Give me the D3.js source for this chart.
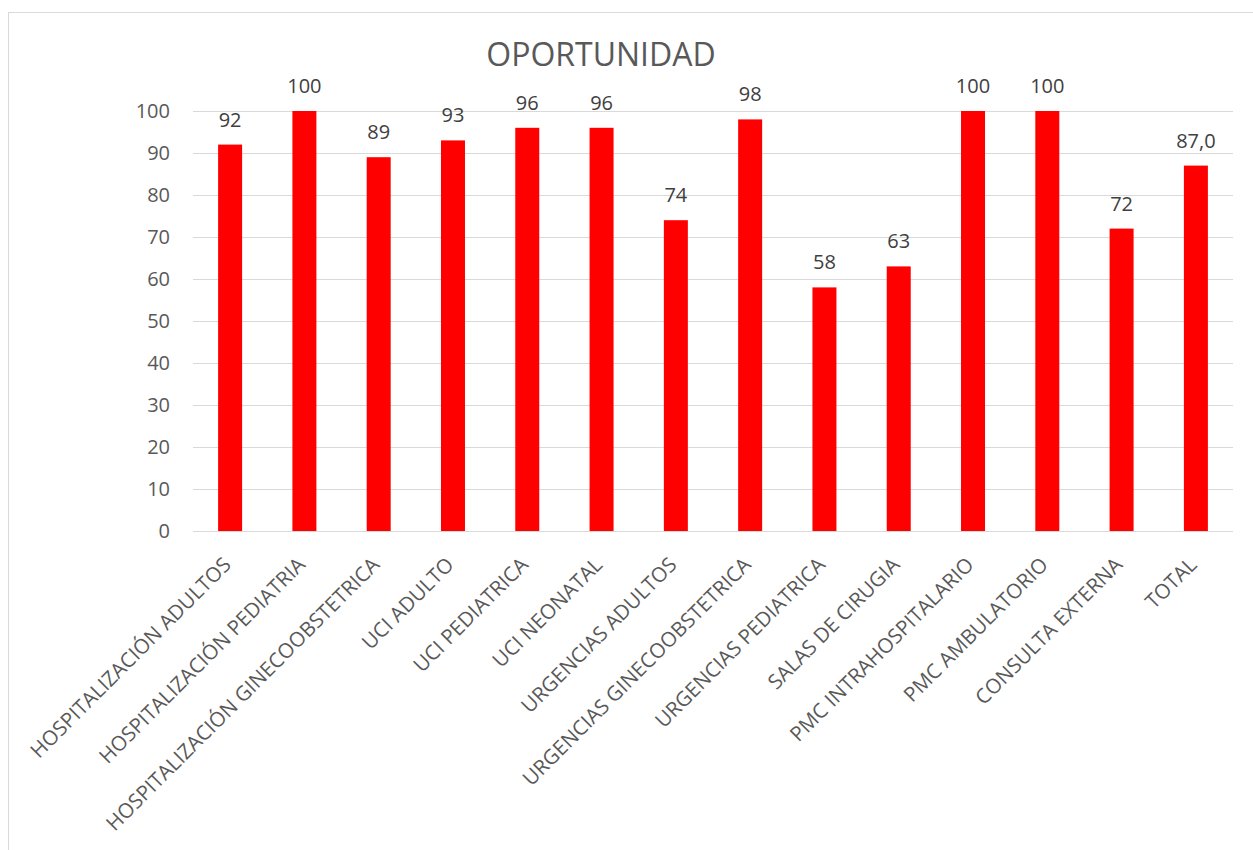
<!DOCTYPE html>
<html>
<head>
<meta charset="utf-8">
<script src="https://cdn.jsdelivr.net/npm/d3@7"></script>
<style>
  body { margin: 0; background: #fff; }
  text { font-family: "Open Sans", "Noto Sans", sans-serif; }
</style>
</head>
<body>
<div id="chart"></div>
<script>
var categories = ["HOSPITALIZACIÓN ADULTOS", "HOSPITALIZACIÓN PEDIATRIA", "HOSPITALIZACIÓN GINECOOBSTETRICA",
  "UCI ADULTO", "UCI PEDIATRICA", "UCI NEONATAL", "URGENCIAS ADULTOS", "URGENCIAS GINECOOBSTETRICA",
  "URGENCIAS PEDIATRICA", "SALAS DE CIRUGIA", "PMC INTRAHOSPITALARIO", "PMC AMBULATORIO",
  "CONSULTA EXTERNA", "TOTAL"];
var values = [92, 100, 89, 93, 96, 96, 74, 98, 58, 63, 100, 100, 72, 87.0];
var valueLabels = ["92", "100", "89", "93", "96", "96", "74", "98", "58", "63", "100", "100", "72", "87,0"];
var yTicks = [0, 10, 20, 30, 40, 50, 60, 70, 80, 90, 100];

var width = 1253, height = 850;
var margin = { left: 193, right: 20, top: 111, bottom: 319 };

var svg = d3.select("#chart").append("svg")
  .attr("width", width).attr("height", height);

// chart frame
svg.append("rect")
  .attr("x", 8.5).attr("y", 12.5)
  .attr("width", width + 10).attr("height", height + 10)
  .attr("fill", "#fff").attr("stroke", "#d9d9d9");

var x = d3.scaleBand()
  .domain(categories)
  .range([margin.left, 1233])
  .paddingInner(0.677).paddingOuter(0.338);

var y = d3.scaleLinear()
  .domain([0, 100])
  .range([531, 111]);

// gridlines
svg.append("g").selectAll("line")
  .data(yTicks).enter().append("line")
  .attr("x1", margin.left).attr("x2", 1233)
  .attr("y1", function (d) { return Math.round(y(d)) + 0.5; })
  .attr("y2", function (d) { return Math.round(y(d)) + 0.5; })
  .attr("stroke", "#d9d9d9").attr("stroke-width", 1);

// y tick labels
svg.append("g").selectAll("text")
  .data(yTicks).enter().append("text")
  .attr("x", 170)
  .attr("y", function (d) { return y(d); })
  .attr("dy", "0.35em")
  .attr("text-anchor", "end")
  .attr("font-size", 20)
  .attr("fill", "#595959")
  .text(function (d) { return d; });

// bars
svg.append("g").selectAll("rect")
  .data(values).enter().append("rect")
  .attr("x", function (d, i) { return x(categories[i]); })
  .attr("y", function (d) { return y(d); })
  .attr("width", x.bandwidth())
  .attr("height", function (d) { return y(0) - y(d); })
  .attr("fill", "#ff0000");

// value labels
svg.append("g").selectAll("text")
  .data(values).enter().append("text")
  .attr("x", function (d, i) { return x(categories[i]) + x.bandwidth() / 2; })
  .attr("y", function (d) { return y(d) - 18; })
  .attr("text-anchor", "middle")
  .attr("font-size", 20)
  .attr("fill", "#404040")
  .text(function (d, i) { return valueLabels[i]; });

// category labels, rotated
svg.append("g").selectAll("text")
  .data(categories).enter().append("text")
  .attr("transform", function (d) {
    return "translate(" + (x(d) + x.bandwidth() / 2 - 3) + ",561) rotate(-45)";
  })
  .attr("text-anchor", "end")
  .attr("dy", "0.35em")
  .attr("font-size", 20.5)
  .attr("fill", "#595959")
  .text(function (d) { return d; });

// title
svg.append("text")
  .attr("x", 601).attr("y", 66)
  .attr("text-anchor", "middle")
  .attr("font-size", 32)
  .attr("fill", "#595959")
  .text("OPORTUNIDAD");
</script>
</body>
</html>
